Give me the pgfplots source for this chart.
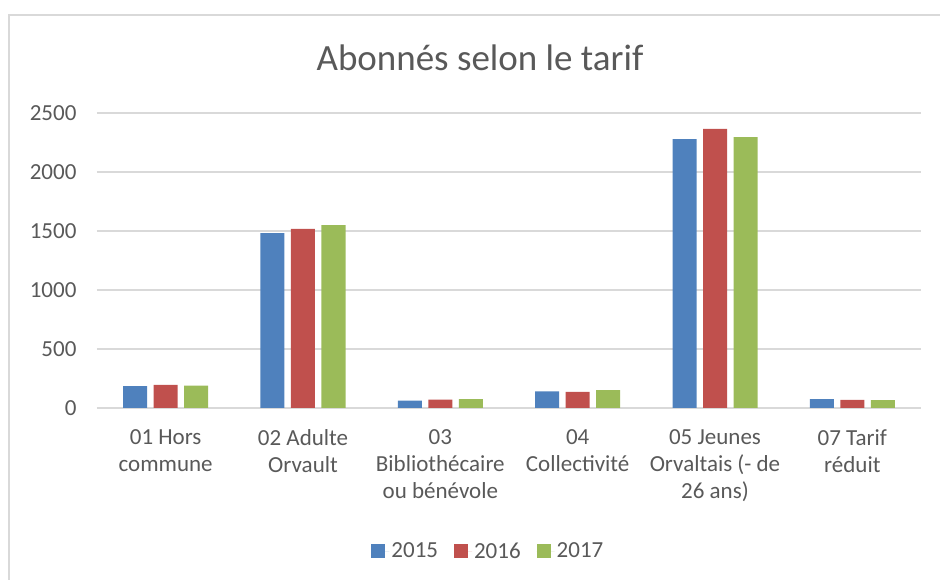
\documentclass[border=0pt]{standalone}
\usepackage{fontspec}
\setmainfont{Carlito}
\usepackage{pgfplots}
\pgfplotsset{compat=1.18}
\definecolor{xlblue}{HTML}{4F81BD}
\definecolor{xlred}{HTML}{C0504D}
\definecolor{xlgreen}{HTML}{9BBB59}
\definecolor{txtgray}{HTML}{595959}
\definecolor{gridgray}{HTML}{D9D9D9}

\begin{document}
\begin{tikzpicture}[x=1pt,y=1pt]
\useasboundingbox (0,0) rectangle (940,580);
% chart frame (cut at right and bottom edges)
\draw[gridgray, line width=1.5pt] (9,-2) -- (9,565) -- (942,565);
\node[font=\fontsize{37}{42}\selectfont, text=txtgray] at (480,522) {Abonnés selon le tarif};
\begin{axis}[
    at={(97pt,172pt)}, anchor=south west,
    scale only axis,
    width=824pt, height=295pt,
    xmin=-0.5, xmax=5.5,
    ymin=0, ymax=2500,
    ytick={0,500,...,2500},
    xtick={0,...,5},
    xticklabels={01 Hors\\commune, 02 Adulte\\Orvault, 03\\Bibliothécaire\\ou bénévole,
                 04\\Collectivité, 05 Jeunes\\Orvaltais (- de\\26 ans), 07 Tarif\\réduit},
    x tick label style={align=center, font=\fontsize{23}{27}\selectfont, text=txtgray,
                        anchor=north, yshift=-18pt},
    y tick label style={font=\fontsize{23}{27}\selectfont, text=txtgray, xshift=-17pt},
    /pgf/number format/assume math mode=true,
    /pgf/number format/1000 sep={},
    scaled y ticks=false,
    ymajorgrids,
    grid style={gridgray, line width=1.2pt},
    axis line style={draw=none},
    major tick style={draw=none},
    bar width=24pt,
    legend style={at={(0.475,-0.485)}, anchor=center, legend columns=3, draw=none,
      font=\fontsize{23}{27}\selectfont, text=txtgray,
      /tikz/every even column/.append style={column sep=14pt}},
    legend image code/.code={\path (0pt,0pt) -- (18pt,0pt);
                             \fill[#1] (0pt,-7pt) rectangle (14pt,7pt);},
]
\addplot[ybar, bar shift=-30.5pt, fill=xlblue, draw=none] coordinates {
  (0,186) (1,1483) (2,62) (3,141) (4,2279) (5,75)};
\addplot[ybar, bar shift=0pt, fill=xlred, draw=none] coordinates {
  (0,195) (1,1519) (2,70) (3,136) (4,2366) (5,69)};
\addplot[ybar, bar shift=30.5pt, fill=xlgreen, draw=none] coordinates {
  (0,190) (1,1550) (2,76) (3,152) (4,2296) (5,66)};
\legend{2015, 2016, 2017}
\end{axis}
\end{tikzpicture}
\end{document}
